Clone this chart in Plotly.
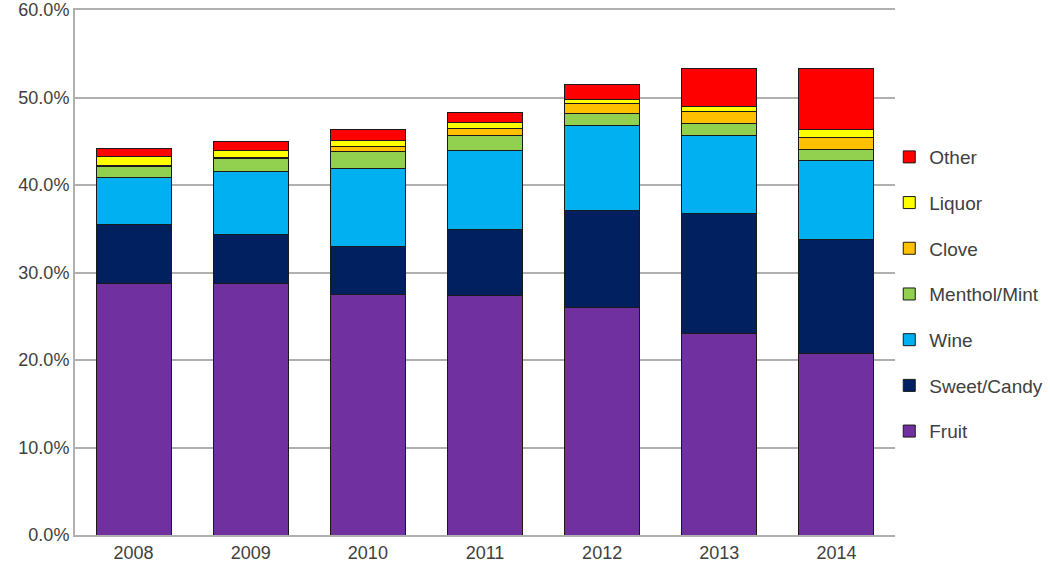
import plotly.graph_objects as go

years = ["2008", "2009", "2010", "2011", "2012", "2013", "2014"]
fruit = [28.8, 28.8, 27.5, 27.4, 26.0, 23.0, 20.8]
sweet_candy = [6.7, 5.6, 5.5, 7.5, 11.1, 13.7, 13.0]
wine = [5.4, 7.2, 8.9, 9.1, 9.7, 9.0, 9.0]
menthol_mint = [1.2, 1.4, 1.9, 1.7, 1.4, 1.3, 1.3]
clove = [0.1, 0.2, 0.6, 0.8, 1.1, 1.4, 1.3]
liquor = [1.1, 0.8, 0.7, 0.6, 0.5, 0.6, 1.0]
other = [0.9, 1.0, 1.2, 1.2, 1.7, 4.3, 6.9]

y_tick_vals = [0, 10, 20, 30, 40, 50, 60]
y_tick_text = ["0.0%", "10.0%", "20.0%", "30.0%", "40.0%", "50.0%", "60.0%"]

series = [
    ("Fruit", fruit, "#7030A0"),
    ("Sweet/Candy", sweet_candy, "#002060"),
    ("Wine", wine, "#00B0F0"),
    ("Menthol/Mint", menthol_mint, "#92D050"),
    ("Clove", clove, "#FFC000"),
    ("Liquor", liquor, "#FFFF00"),
    ("Other", other, "#FF0000"),
]

fig = go.Figure()
n = len(series)
for i, (name, vals, color) in enumerate(series):
    fig.add_trace(go.Bar(
        x=years, y=vals, name=name, legendgroup=name, legendrank=1000 + (n - i),
        marker=dict(color=color, line=dict(color="#1a1a1a", width=1)),
    ))

tick_font = dict(family="Liberation Sans, Arial, sans-serif", size=18, color="#404040")
leg_font = dict(family="Liberation Sans, Arial, sans-serif", size=19, color="#404040")
fig.update_layout(
    barmode="stack",
    bargap=0.36,
    width=1080, height=571,
    margin=dict(l=75, r=185, t=10, b=36),
    paper_bgcolor="white", plot_bgcolor="white",
    font=tick_font,
    showlegend=True,
    legend=dict(
        traceorder="grouped", tracegroupgap=18,
        x=0.993, xanchor="left", y=0.459, yanchor="middle",
        font=leg_font, bgcolor="rgba(0,0,0,0)",
    ),
    xaxis=dict(
        showgrid=False, showline=True, linecolor="#b0b0b0", linewidth=2,
        mirror=True,
        ticks="", tickfont=tick_font, automargin=False,
    ),
    yaxis=dict(
        range=[0, 60], tickmode="array", tickvals=y_tick_vals, ticktext=y_tick_text,
        showgrid=True, gridcolor="#b0b0b0", gridwidth=2,
        showline=True, linecolor="#b0b0b0", linewidth=2,
        zeroline=False, ticks="", tickfont=tick_font, automargin=False,
        ticklabeloverflow="allow",
    ),
)

fig.write_html(
    "out.html",
    config={"displayModeBar": False},
    post_script="document.body.style.margin='0';document.body.style.overflow='hidden';",
)
